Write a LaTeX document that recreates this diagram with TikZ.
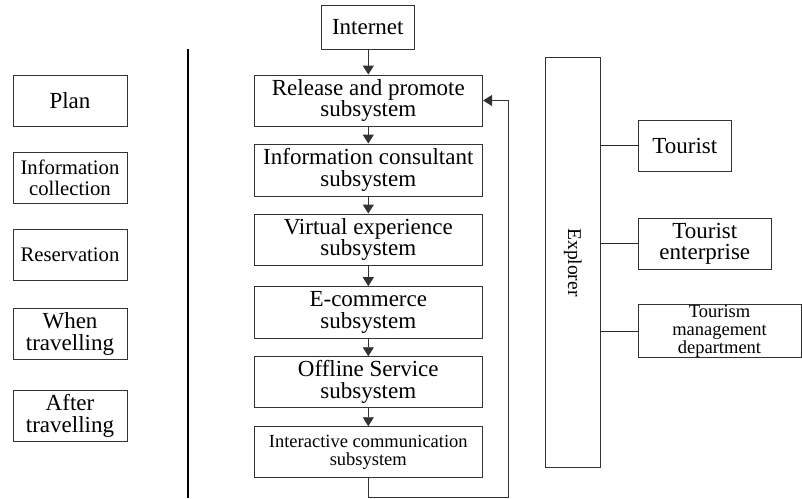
\documentclass[tikz,border=0pt]{standalone}
\usepackage{fontspec}
\setmainfont{Liberation Serif}
\usetikzlibrary{arrows.meta}
\begin{document}
\begin{tikzpicture}[x=1pt,y=-1pt,
  box/.style={draw=black!80, line width=0.9pt, inner sep=0pt, align=center,
    font=\fontsize{23}{21.7}\selectfont},
  smallbox/.style={box, font=\fontsize{18.5}{18.3}\selectfont},
  midbox/.style={box, font=\fontsize{20.7}{20.7}\selectfont},
  sub/.style={box, minimum width=228.7pt, minimum height=51pt},
  side/.style={box, minimum width=114pt, minimum height=51pt},
  flow/.style={draw=black!80, line width=0.9pt, -{Triangle[length=9pt,width=11pt]}},
  link/.style={draw=black!85, line width=1pt}]
\useasboundingbox (0,0) rectangle (802,498);
% left column
\node[side] (plan) at (70,100.5) {Plan};
\node[side, midbox, minimum width=114pt, minimum height=51pt] (infoc) at (70,177.5) {Information\\collection};
\node[side, midbox, minimum width=114pt, minimum height=51pt] (res) at (70,254.5) {Reservation};
\node[side] (when) at (70,334.3) {When\\travelling};
\node[side] (after) at (70,415.8) {After\\travelling};
% divider
\coordinate (dtop) at (188,49);
\coordinate (dbot) at (188,498);
\draw[line width=1.4pt] (dtop) -- (dbot);
% centre column
\node[box, minimum width=92.3pt, minimum height=43.3pt] (internet) at (367.8,27.3) {Internet};
\node[sub] (rel) at (368.3,100.5) {Release and promote\\subsystem};
\node[sub, minimum height=52pt] (info) at (368.3,170) {Information consultant\\subsystem};
\node[sub] (virt) at (368.3,239.5) {Virtual experience\\subsystem};
\node[sub, minimum height=51.3pt] (ecom) at (368.3,312.3) {E-commerce\\subsystem};
\node[sub] (off) at (368.3,382.2) {Offline Service\\subsystem};
\node[sub, smallbox, minimum width=228.7pt, minimum height=51pt] (inter) at (368.3,452.2) {Interactive communication\\subsystem};
\draw[flow] (internet.south -| rel.north) -- (rel.north);
\draw[flow] (rel) -- (info);
\draw[flow] (info) -- (virt);
\draw[flow] (virt) -- (ecom);
\draw[flow] (ecom) -- (off);
\draw[flow] (off) -- (inter);
\coordinate (lb) at (368.3,497.3);
\coordinate (rb) at (508,497.3);
\draw[flow] (inter.south) -- (lb) -- (rb) |- (rel.east);
% right column
\node[box, minimum width=54.3pt, minimum height=409.6pt, font=\fontsize{19.5}{19.5}\selectfont] (explorer) at (572.8,262.5) {\rotatebox{-90}{Explorer}};
\node[box, minimum width=93.7pt, minimum height=51pt] (tourist) at (684.8,145.5) {Tourist};
\node[box, minimum width=133.7pt, minimum height=51pt] (ent) at (704.8,243.8) {Tourist\\enterprise};
\node[smallbox, minimum width=163pt, minimum height=50.7pt] (mgmt) at (719.5,331.3) {Tourism\\management\\department};
\draw[link] (explorer.east |- tourist.west) -- (tourist.west);
\draw[link] (explorer.east |- ent.west) -- (ent.west);
\draw[link] (explorer.east |- mgmt.west) -- (mgmt.west);
\end{tikzpicture}
\end{document}
